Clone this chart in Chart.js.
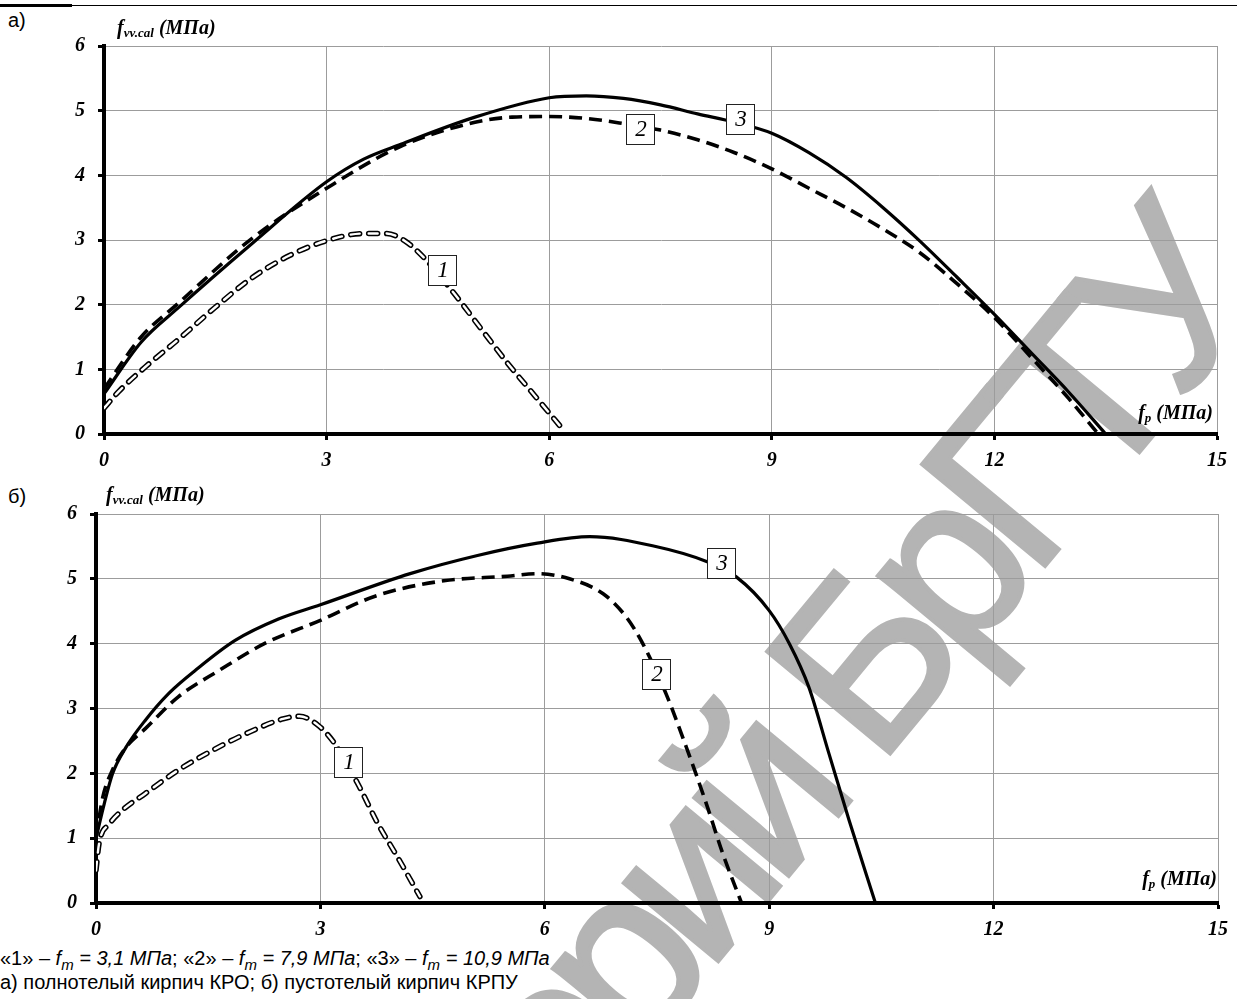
<!DOCTYPE html>
<html lang="ru">
<head>
<meta charset="utf-8">
<title>f_vv.cal – f_p</title>
<script src="https://cdn.jsdelivr.net/npm/chart.js@4.4.1/dist/chart.umd.min.js"></script>
<style>
    html, body { margin: 0; padding: 0; }
    body {
        width: 1237px; height: 999px; overflow: hidden;
        position: relative; background: #fff;
        font-family: 'Liberation Sans', Arial, sans-serif;
    }
    canvas { position: absolute; left: 0; }
    #chartA { top: 0; }
    #chartB { top: 470px; }
    .watermark { position: absolute; left: 0; top: 0; }
    .rule-thin { position: absolute; left: 0; top: 5px; width: 1237px; height: 1px; background: #000; }
    .rule-thick { position: absolute; left: 0; top: 4px; width: 72px; height: 3px; background: #000; }
    .panel { position: absolute; left: 8px; font-size: 20px; line-height: 20px; }
    .axis-title {
        position: absolute; font-family: 'Liberation Serif', serif;
        font-style: italic; font-weight: bold; font-size: 20px; line-height: 20px;
        white-space: nowrap;
    }
    .axis-title sub { font-size: 13px; vertical-align: -3px; }
    .caption { position: absolute; left: 0; font-size: 20px; line-height: 20px; white-space: nowrap; }
    .caption sub { font-size: 15px; vertical-align: -5px; }
</style>
</head>
<body>
<svg class="watermark" width="1237" height="999">
    <text x="0" y="0" text-anchor="end" transform="translate(1261,305) rotate(-50.4)"
          font-family="Liberation Sans, sans-serif" font-size="232"
          letter-spacing="-19" fill="#b4b4b4" stroke="#b4b4b4" stroke-width="4">Репозиторий БрГТУ</text>
</svg>

<div class="rule-thin"></div>
<div class="rule-thick"></div>

<div class="panel" style="top:10px">а)</div>
<div class="panel" style="top:486px">б)</div>

<canvas id="chartA" width="1237" height="480"></canvas>
<canvas id="chartB" width="1237" height="470"></canvas>

<div class="axis-title" style="left:117px; top:17px">f<sub>vv.cal</sub> (МПа)</div>
<div class="axis-title" style="left:106px; top:484px">f<sub>vv.cal</sub> (МПа)</div>
<div class="axis-title" style="right:24px; top:402px">f<sub>p</sub> (МПа)</div>
<div class="axis-title" style="right:20px; top:868px">f<sub>p</sub> (МПа)</div>

<div class="caption" style="top:948px">«1» – <i>f<sub>m</sub> = 3,1 МПа</i>; «2» – <i>f<sub>m</sub> = 7,9 МПа</i>; «3» – <i>f<sub>m</sub> = 10,9 МПа</i></div>
<div class="caption" style="top:972px">а) полнотелый кирпич КРО; б) пустотелый кирпич КРПУ</div>

<script>
// --- данные ---

// а) полнотелый кирпич КРО
const fpA1  = [0, 0.2, 0.6, 1.0, 1.5, 2.0, 2.5, 3.0, 3.5, 3.8, 4.05, 4.35, 4.7, 5.1, 5.45, 5.8, 6.2];
const fvvA1 = [0.4, 0.66, 1.08, 1.46, 1.96, 2.42, 2.76, 2.99, 3.1, 3.1, 2.99, 2.68, 2.2, 1.6, 1.08, 0.6, 0.05];

const fpA2  = [0, 0.5, 1, 2, 3, 4, 5, 5.5, 6, 6.5, 7, 7.5, 8, 8.5, 9, 9.5, 10, 10.5, 11, 11.5, 12, 12.5, 13, 13.4];
const fvvA2 = [0.7, 1.5, 2.02, 3.03, 3.8, 4.45, 4.82, 4.9, 4.91, 4.88, 4.8, 4.7, 4.55, 4.35, 4.1, 3.8, 3.5, 3.17, 2.8, 2.32, 1.8, 1.18, 0.55, 0];

const fpA3  = [0, 0.5, 1, 2, 3, 3.5, 4, 5, 6, 6.5, 7, 7.5, 8, 8.5, 9, 9.5, 10, 10.5, 11, 11.5, 12, 12.5, 13, 13.5];
const fvvA3 = [0.62, 1.42, 1.95, 2.95, 3.9, 4.25, 4.48, 4.9, 5.2, 5.23, 5.19, 5.09, 4.95, 4.82, 4.65, 4.35, 3.97, 3.5, 2.98, 2.42, 1.85, 1.25, 0.65, 0];

// б) пустотелый кирпич КРПУ
const fpB1  = [0, 0.04, 0.18, 0.35, 0.66, 1.1, 1.55, 2.0, 2.5, 2.72, 2.97, 3.19, 3.5, 3.77, 4.03, 4.33];
const fvvB1 = [0.5, 0.91, 1.22, 1.43, 1.69, 2.05, 2.35, 2.61, 2.84, 2.88, 2.74, 2.46, 1.84, 1.22, 0.71, 0.1];

const fpB2  = [0, 0.09, 0.22, 0.4, 0.66, 1.1, 1.65, 2.25, 3, 3.75, 4.65, 5.5, 5.9, 6.33, 6.78, 7.09, 7.31, 7.62, 7.89, 8.16, 8.38, 8.63];
const fvvB2 = [1.0, 1.63, 2.05, 2.4, 2.69, 3.18, 3.59, 4.0, 4.36, 4.74, 4.97, 5.04, 5.08, 5.0, 4.77, 4.41, 4.0, 3.23, 2.41, 1.53, 0.76, 0];

const fpB3  = [0, 0.11, 0.22, 0.4, 0.66, 0.97, 1.33, 1.86, 2.44, 3, 4.2, 5.1, 5.9, 6.6, 7.44, 8.18, 8.56, 9.0, 9.27, 9.53, 9.8, 10.07, 10.42];
const fvvB3 = [1.0, 1.53, 1.99, 2.4, 2.82, 3.23, 3.59, 4.05, 4.38, 4.6, 5.08, 5.36, 5.55, 5.65, 5.51, 5.26, 5.03, 4.51, 4.0, 3.33, 2.3, 1.27, 0];

// подписи кривых (номер и точка привязки в единицах осей)
const tagNames = ['1', '2', '3'];
const tagFpA  = [4.56, 7.23, 8.57];
const tagFvvA = [2.53, 4.71, 4.87];
const tagFpB  = [3.37, 7.49, 8.36];
const tagFvvB = [2.17, 3.53, 5.25];

// оси
const xMax = 15, xStep = 3;
const yMax = 6, yStep = 1;

const toPoints = (xs, ys) => xs.map((x, i) => ({ x: x, y: ys[i] }));

const tickFont = { family: "'Liberation Serif', serif", size: 20, style: 'italic', weight: 'bold' };

// рамки с номерами кривых
const curveTags = {
    id: 'curveTags',
    afterDatasetsDraw(chart, args, opts) {
        const ctx = chart.ctx;
        const sx = chart.scales.x, sy = chart.scales.y;
        (opts.tags || []).forEach(t => {
            const px = Math.round(sx.getPixelForValue(t.x));
            const py = Math.round(sy.getPixelForValue(t.y));
            ctx.save();
            ctx.fillStyle = '#fff';
            ctx.fillRect(px - 14, py - 15, 29, 31);
            ctx.strokeStyle = '#222';
            ctx.lineWidth = 1;
            ctx.strokeRect(px - 14 + 0.5, py - 15 + 0.5, 28, 30);
            ctx.fillStyle = '#000';
            ctx.font = "italic 23px 'Liberation Serif', serif";
            ctx.textAlign = 'center';
            ctx.textBaseline = 'middle';
            ctx.fillText(t.text, px + 1, py + 1);
            ctx.restore();
        });
    }
};

function buildDatasets(c1, c2, c3) {
    const base = { showLine: true, pointRadius: 0, fill: false, cubicInterpolationMode: 'monotone' };
    return [
        Object.assign({}, base, { data: c1, borderColor: '#fff', borderWidth: 2.4, borderDash: [9, 9], borderCapStyle: 'round', order: 0 }),
        Object.assign({}, base, { data: c1, borderColor: '#000', borderWidth: 5.5, borderDash: [9, 9], borderCapStyle: 'round', order: 1 }),
        Object.assign({}, base, { data: c2, borderColor: '#000', borderWidth: 3.6, borderDash: [13, 7], order: 2 }),
        Object.assign({}, base, { data: c3, borderColor: '#000', borderWidth: 3.2, order: 3 })
    ];
}

function buildChart(canvasId, datasets, tags, box) {
    const ctx = document.getElementById(canvasId);
    return new Chart(ctx, {
        type: 'scatter',
        data: { datasets: datasets },
        options: {
            responsive: false,
            animation: false,
            devicePixelRatio: 1,
            layout: { padding: { top: box.top, right: box.right, left: 0, bottom: 0 } },
            plugins: {
                legend: { display: false },
                tooltip: { enabled: false },
                curveTags: { tags: tags }
            },
            scales: {
                x: {
                    type: 'linear', min: 0, max: xMax,
                    afterFit: s => { s.height = box.xAxisHeight; },
                    ticks: { stepSize: xStep, color: '#000', font: tickFont, padding: 9, maxRotation: 0 },
                    grid: { color: '#9c9c9c', lineWidth: 1, tickColor: '#000', tickWidth: 3, tickLength: 6 },
                    border: { color: '#000', width: 4 }
                },
                y: {
                    type: 'linear', min: 0, max: yMax,
                    afterFit: s => { s.width = box.yAxisWidth; },
                    ticks: { stepSize: yStep, color: '#000', font: tickFont, padding: 13 },
                    grid: { color: '#9c9c9c', lineWidth: 1, tickColor: '#000', tickWidth: 3, tickLength: 6 },
                    border: { color: '#000', width: 4 }
                }
            }
        },
        plugins: [curveTags]
    });
}

const tagsA = tagNames.map((n, i) => ({ text: n, x: tagFpA[i], y: tagFvvA[i] }));
const tagsB = tagNames.map((n, i) => ({ text: n, x: tagFpB[i], y: tagFvvB[i] }));

buildChart('chartA',
    buildDatasets(toPoints(fpA1, fvvA1), toPoints(fpA2, fvvA2), toPoints(fpA3, fvvA3)),
    tagsA,
    { top: 46, right: 20, yAxisWidth: 104, xAxisHeight: 46 });

buildChart('chartB',
    buildDatasets(toPoints(fpB1, fvvB1), toPoints(fpB2, fvvB2), toPoints(fpB3, fvvB3)),
    tagsB,
    { top: 44, right: 11, yAxisWidth: 96, xAxisHeight: 37 });
</script>
</body>
</html>
